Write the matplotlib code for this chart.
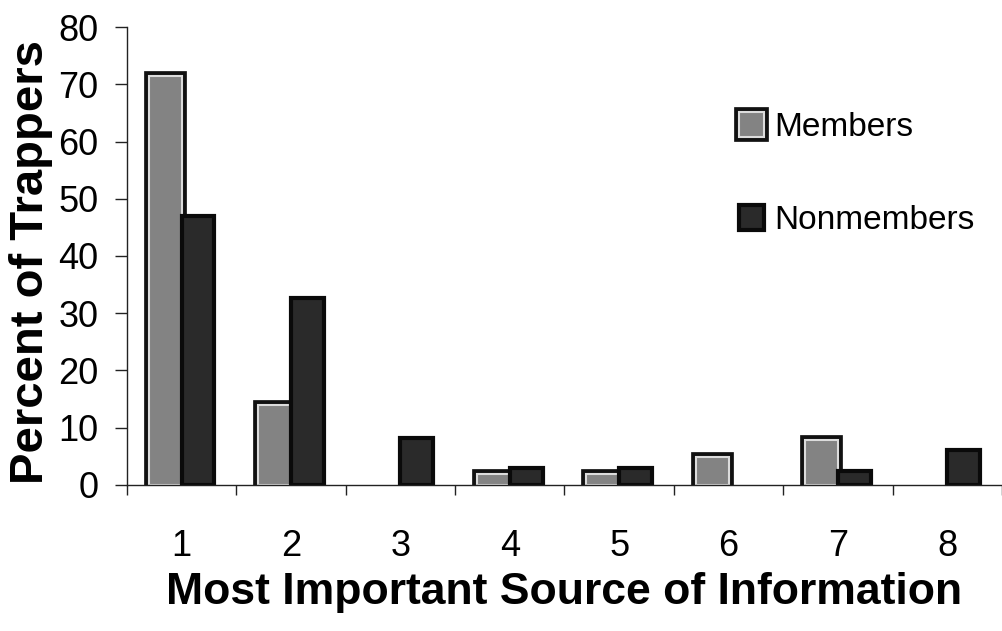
import numpy as np
import matplotlib.pyplot as plt
import matplotlib.patheffects as pe

# Porcentaje de tramperos segun la fuente de informacion mas importante
categorias = [1, 2, 3, 4, 5, 6, 7, 8]
miembros = [71.4, 14.0, 0, 2.0, 2.0, 4.9, 7.9, 0]
no_miembros = [47.0, 32.7, 8.2, 3.0, 3.0, 0, 2.4, 6.1]
marcas_y = [0, 10, 20, 30, 40, 50, 60, 70, 80]

plt.rcParams['font.family'] = ['Liberation Sans', 'DejaVu Sans']


def graficar_barras(ax, x, valores, desplazamiento, ancho, **estilo):
    """
    Dibuja una serie de barras, omitiendo las de valor cero
    """
    valores = np.array(valores)
    hay = valores > 0
    return ax.bar(x[hay] + desplazamiento, valores[hay], width=ancho, **estilo)


fig = plt.figure(figsize=(10.02, 6.31), dpi=100)
ax = fig.add_axes([0.1267, 0.2314, 0.8733, 0.7258])

x = np.array(categorias)
ancho = 0.3

graficar_barras(ax, x, miembros, -ancho / 2, ancho,
                color='#838383', edgecolor='#dcdcdc', linewidth=1.5,
                path_effects=[pe.Stroke(linewidth=7, foreground='#111111'), pe.Normal()],
                label='Members')
graficar_barras(ax, x, no_miembros, ancho / 2, ancho,
                color='#2a2a2a', edgecolor='#0a0a0a', linewidth=3,
                label='Nonmembers')

ax.set_xlim(0.5, 8.5)
ax.set_ylim(0, 80)

for lado in ['top', 'right']:
    ax.spines[lado].set_visible(False)
for lado in ['left', 'bottom']:
    ax.spines[lado].set_linewidth(1)
    ax.spines[lado].set_color('#222222')

ax.set_yticks(marcas_y)
ax.tick_params(axis='y', direction='out', length=8.6, width=1, pad=12,
               labelsize=26, color='#222222')

ax.set_xticks(x)
ax.set_xticklabels([str(c) for c in categorias])
ax.set_xticks(np.arange(0.5, 9, 1), minor=True)
ax.tick_params(axis='x', which='major', length=0, pad=32, labelsize=26)
ax.tick_params(axis='x', which='minor', direction='out', length=7, width=1,
               color='#222222')

ax.set_xlabel('Most Important Source of Information', fontsize=32,
              fontweight='bold')
ax.xaxis.set_label_coords(0.5, -0.19)
ax.set_ylabel('Percent of Trappers', fontsize=34, fontweight='bold')
ax.yaxis.set_label_coords(-0.085, 0.487)

ax.legend(loc='upper left', bbox_to_anchor=(0.70, 0.815), frameon=False,
          fontsize=24, handlelength=0.75, handleheight=0.8,
          handletextpad=0.3, labelspacing=1.85, borderpad=0,
          borderaxespad=0)

fig.savefig('out.png', dpi=100)
